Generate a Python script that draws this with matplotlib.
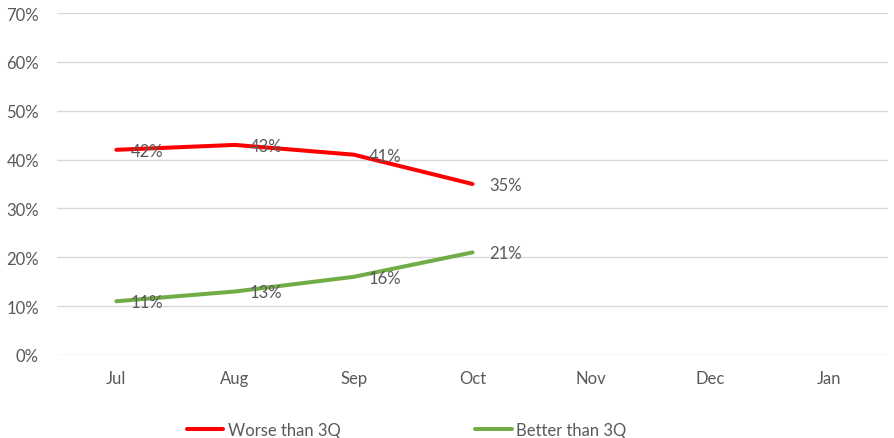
import matplotlib
matplotlib.use("Agg")
import matplotlib.pyplot as plt
from matplotlib.ticker import PercentFormatter

plt.rcParams['font.family'] = ['Lato', 'DejaVu Sans']

months = ["Jul", "Aug", "Sep", "Oct", "Nov", "Dec", "Jan"]
worse = [42, 43, 41, 35]
better = [11, 13, 16, 21]
y_ticks = [0, 10, 20, 30, 40, 50, 60, 70]

fig = plt.figure(figsize=(8.94, 4.39), dpi=100)
ax = fig.add_axes([57 / 894, 1 - 356 / 439, (888 - 57) / 894, (356 - 14) / 439])

x = list(range(len(months)))
ax.plot(x[:len(worse)], worse, color="#ff0000", lw=2.9, solid_capstyle="round",
        label="Worse than 3Q", zorder=3)
ax.plot(x[:len(better)], better, color="#70ad47", lw=2.9, solid_capstyle="round",
        label="Better than 3Q", zorder=3)

text_color = "#595959"
fs = 12
for series in (worse, better):
    for i, v in enumerate(series):
        last = i == len(series) - 1
        dx = 17 if last else (14 if i == 0 else 15)
        ax.annotate(f"{v}%", (i, v), xytext=(dx, -1),
                    textcoords="offset pixels", ha="left", va="center",
                    fontsize=fs, color=text_color, zorder=4)

ax.set_xlim(-0.5, len(months) - 0.5)
ax.set_ylim(0, 70)
ax.set_yticks(y_ticks)
ax.yaxis.set_major_formatter(PercentFormatter(decimals=0))
ax.set_xticks(x)
ax.set_xticklabels(months)
ax.tick_params(length=0, labelsize=fs, labelcolor=text_color)
ax.tick_params(axis="x", pad=11)
ax.tick_params(axis="y", pad=13)
ax.grid(axis="y", color="#d9d9d9", lw=1)
ax.set_axisbelow(True)
for s in ax.spines.values():
    s.set_visible(False)

fig.legend(loc="center", bbox_to_anchor=(406.5 / 894, 1 - 431 / 439), ncol=2, frameon=False,
           fontsize=fs, labelcolor=text_color, handlelength=2.2, handletextpad=0.25,
           columnspacing=8.1)

fig.savefig("out.png", dpi=100)
